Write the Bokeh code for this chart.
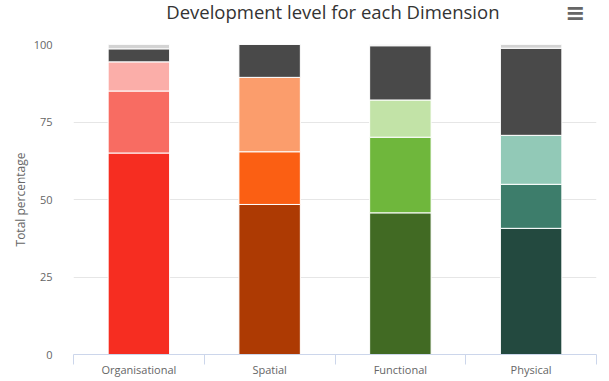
import numpy as np
from bokeh.plotting import figure
from bokeh.layouts import column
from bokeh.models import ColumnDataSource, Range1d, FixedTicker
from bokeh.core.properties import value
from bokeh.embed import file_html
from bokeh.resources import INLINE

categories = ["Organisational", "Spatial", "Functional", "Physical"]
level_1 = [65.0, 48.4, 45.7, 40.7]
level_2 = [20.0, 17.0, 24.4, 14.2]
level_3 = [9.4, 24.0, 12.0, 15.8]
not_developed = [4.2, 10.6, 17.5, 28.1]
no_data = [1.4, 0.0, 0.4, 1.2]

colors_level_1 = ["#f62d21", "#ad3a03", "#416a23", "#23493f"]
colors_level_2 = ["#f86c62", "#fb5f13", "#6fb73c", "#3d7d6b"]
colors_level_3 = ["#fbaea9", "#fb9d6c", "#c2e3a7", "#92c9b7"]
colors_not_developed = ["#494949", "#494949", "#494949", "#494949"]
colors_no_data = ["#d3d3d3", "#d3d3d3", "#d3d3d3", "#d3d3d3"]

series = [level_1, level_2, level_3, not_developed, no_data]
series_colors = [colors_level_1, colors_level_2, colors_level_3, colors_not_developed, colors_no_data]

title_text = "Development level for each Dimension"
FONT = "Open Sans"

W, H = 609, 381
HEADER = 34
TOP = 10
LEFT, RIGHT, BOTTOM = 73, 13, 27

# ---- header: title and menu icon ----
header = figure(width=W, height=HEADER, output_backend="svg", toolbar_location=None,
                x_range=Range1d(0, W), y_range=Range1d(HEADER, 0),
                x_axis_location=None, y_axis_location=None,
                min_border_left=0, min_border_right=0, min_border_top=0, min_border_bottom=0)
header.grid.visible = False
header.outline_line_color = None
header.text(x=[302], y=[11], text=[title_text], text_align="center", text_baseline="middle",
            text_font=value(FONT), text_font_size=value("18.5px"), text_color="#333333")
header.text(x=[584], y=[12], text=["\u2261"], text_align="center", text_baseline="middle",
            text_font=value("DejaVu Sans"), text_font_size=value("24px"),
            text_font_style="bold", text_color="#666666")

# ---- main chart ----
p = figure(width=W, height=H - HEADER, output_backend="svg", toolbar_location=None,
           x_range=Range1d(-0.5, len(categories) - 0.5), y_range=Range1d(0, 100),
           min_border_left=LEFT, min_border_right=RIGHT, min_border_top=TOP,
           min_border_bottom=BOTTOM)
p.outline_line_color = None

xs = list(range(len(categories)))
bottom = np.zeros(len(categories))
for vals, cols in zip(series, series_colors):
    vals = np.array(vals, dtype=float)
    src = ColumnDataSource(dict(x=xs, bottom=bottom.copy(), top=bottom + vals, color=cols))
    p.vbar(x="x", bottom="bottom", top="top", width=0.47, source=src,
           fill_color="color", line_color="white", line_width=1)
    bottom = bottom + vals

# x axis
xa = p.xaxis[0]
xa.ticker = FixedTicker(ticks=xs, minor_ticks=[i - 0.5 for i in range(len(categories) + 1)])
xa.major_label_overrides = {i: c for i, c in enumerate(categories)}
xa.major_tick_line_color = None
xa.major_tick_out = 0
xa.major_tick_in = 0
xa.minor_tick_line_color = "#ccd6eb"
xa.minor_tick_out = 10
xa.minor_tick_in = 0
xa.axis_line_color = "#ccd6eb"
xa.major_label_text_font = FONT
xa.major_label_text_font_size = "11px"
xa.major_label_text_color = "#666666"
xa.major_label_standoff = -3
p.xgrid.grid_line_color = None

# y axis
ya = p.yaxis[0]
ya.ticker = FixedTicker(ticks=[0, 25, 50, 75, 100])
ya.axis_line_color = None
ya.major_tick_line_color = None
ya.minor_tick_line_color = None
ya.major_label_text_font = FONT
ya.major_label_text_font_size = "11px"
ya.major_label_text_color = "#666666"
ya.major_label_standoff = 15
ya.axis_label = "Total percentage"
ya.axis_label_text_font = FONT
ya.axis_label_text_font_size = "12px"
ya.axis_label_text_font_style = "normal"
ya.axis_label_text_color = "#666666"
ya.axis_label_standoff = 2
p.ygrid.grid_line_color = "#e6e6e6"

layout = column(header, p, spacing=0)
open("out.html", "w").write(file_html(layout, INLINE))
